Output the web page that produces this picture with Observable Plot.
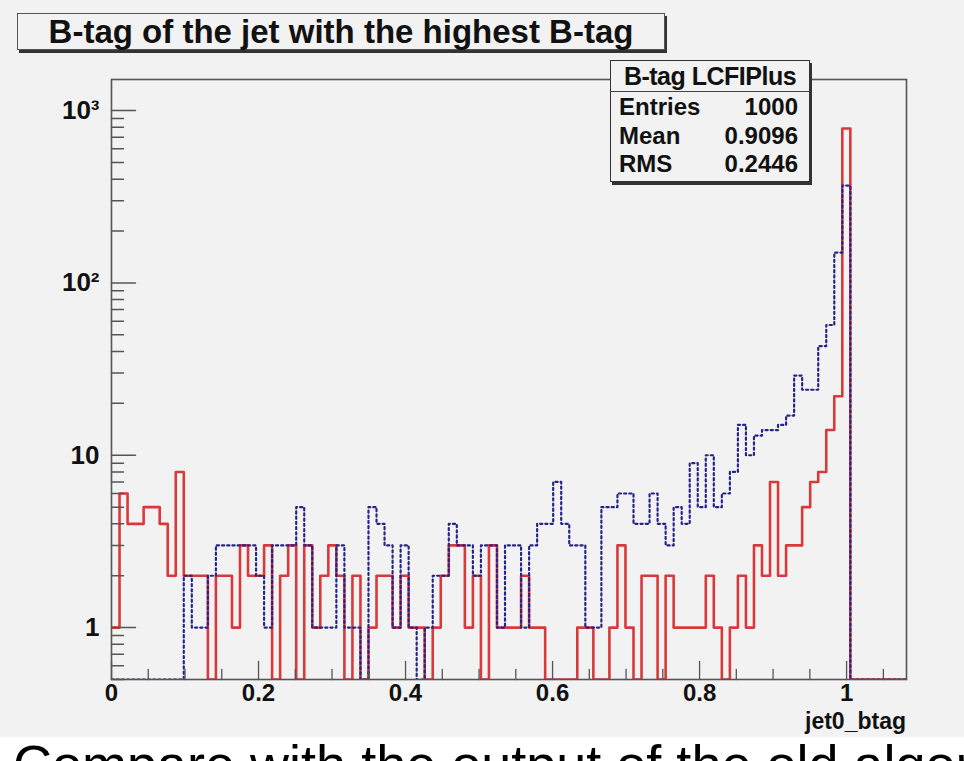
<!DOCTYPE html>
<html>
<head>
<meta charset="utf-8">
<script src="https://cdn.jsdelivr.net/npm/d3@7"></script>
<script src="https://cdn.jsdelivr.net/npm/@observablehq/plot@0.6"></script>
<style>
  html, body { margin: 0; padding: 0; background: #ffffff; }
  #wrap { position: relative; width: 964px; height: 761px; overflow: hidden; background: #ffffff;
          font-family: "Liberation Sans", Arial, sans-serif; font-weight: bold; color: #111; }
  #canvas { position: absolute; left: 0; top: 0; width: 964px; height: 737px; background: #f2f2f2; }
  #chart { position: absolute; left: 0; top: 0; }
  #title { position: absolute; left: 17px; top: 13px; width: 646px; height: 35px; border: 1.5px solid #555;
           box-shadow: 2px 3px 0 #333; background: #f2f2f2; font-size: 33px; line-height: 35px; text-align: center; }
  #stats { position: absolute; left: 610px; top: 60px; width: 198px; height: 120px; border: 1.5px solid #333;
           box-shadow: 2px 3px 0 #333; background: #f2f2f2; font-size: 24px; }
  #stats .hdr { height: 30px; line-height: 31px; text-align: center; border-bottom: 1.5px solid #444; font-size: 25px; letter-spacing: -0.5px; }
  #stats .row { display: flex; justify-content: space-between; padding: 0 11px 0 8px; height: 28.5px; line-height: 29px; }
  #xlabel { position: absolute; right: 58px; top: 708px; font-size: 23px; }
  #slide { position: absolute; left: 13px; top: 733px; font-size: 54px; line-height: 62px; font-weight: normal;
           font-family: "Liberation Sans", Arial, sans-serif; color: #000; white-space: nowrap; }
</style>
</head>
<body>
<div id="wrap">
  <div id="canvas"></div>
  <div id="chart"></div>
  <div id="title">B-tag of the jet with the highest B-tag</div>
  <div id="stats"></div>
  <div id="xlabel">jet0_btag</div>
  <div id="slide">Compare with the output of the old algorithm</div>
</div>
<script>
// ---- data -------------------------------------------------------------
const binWidth = 0.010925;         // histogram bin width (x units), bins start at x = 0
const xRange = [0, 1.0815];
const yRange = [0.5, 1514];

// red solid histogram: entries per bin
const redCounts = [
  1, 6, 4, 4, 5, 5, 4, 2, 8, 2,
  2, 2, 0, 2, 2, 1, 3, 2, 2, 3,
  0, 2, 3, 0, 3, 1, 2, 3, 2, 0,
  2, 0, 1, 2, 2, 1, 2, 1, 1, 0,
  1, 2, 3, 3, 1, 2, 0, 3, 1, 1,
  1, 2, 1, 1, 0, 0, 0, 0, 1, 1,
  0, 0, 1, 3, 1, 0, 2, 2, 0, 2,
  1, 1, 1, 1, 2, 1, 0, 1, 2, 1,
  3, 2, 7, 2, 3, 3, 5, 7, 8, 14,
  22, 787, 0, 0, 0, 0, 0, 0, 0
];

// blue dotted histogram: entries per bin
const blueCounts = [
  0, 0, 0, 0, 0, 0, 0, 0, 0, 2,
  1, 1, 2, 3, 3, 3, 3, 3, 2, 1,
  3, 3, 3, 5, 3, 1, 1, 1, 3, 1,
  1, 0, 5, 4, 3, 1, 3, 1, 0, 1,
  2, 2, 4, 3, 3, 2, 3, 3, 1, 3,
  3, 1, 3, 4, 4, 7, 4, 3, 3, 1,
  1, 5, 5, 6, 6, 4, 4, 6, 4, 3,
  5, 4, 9, 5, 10, 5, 6, 8, 15, 10,
  13, 14, 14, 15, 17, 29, 24, 24, 43, 57,
  150, 367, 0, 0, 0, 0, 0, 0, 0
];

const xTicks = [0, 0.2, 0.4, 0.6, 0.8, 1];
const xTickLabels = ["0", "0.2", "0.4", "0.6", "0.8", "1"];
const yTicks = [1, 10, 100, 1000];
const yTickLabels = ["1", "10", "10\u00B2", "10\u00B3"];

const statsTitle = "B-tag LCFIPlus";
const statsNames = ["Entries", "Mean", "RMS"];
const statsValues = ["1000", "0.9096", "0.2446"];

// ---- build ------------------------------------------------------------
function stepPoints(counts) {
  const pts = counts.map((c, i) => ({x: i * binWidth, y: Math.max(c, yRange[0])}));
  pts.push({x: counts.length * binWidth, y: Math.max(counts[counts.length - 1], yRange[0])});
  return pts;
}
const redPts = stepPoints(redCounts);
const bluePts = stepPoints(blueCounts);

const xMinor = d3.range(0, 1.08, 0.05).map(v => +v.toFixed(2)).filter(v => !xTicks.includes(v));
const yMinor = [];
for (const dec of [0.1, 1, 10, 100]) for (let m = 2; m <= 9; m++) {
  const v = +(dec * m).toFixed(3);
  if (v >= yRange[0] && v <= yRange[1]) yMinor.push(v);
}

const tickShape = {draw(ctx, l) { ctx.moveTo(0, 0); ctx.lineTo(0, -l); }};

const chart = Plot.plot({
  width: 964,
  height: 761,
  marginLeft: 111,
  marginRight: 58,
  marginTop: 79,
  marginBottom: 82,
  style: {background: "transparent", fontFamily: "'Liberation Sans', Arial, sans-serif", fontWeight: "bold", color: "#111"},
  x: {domain: xRange, axis: null},
  y: {type: "log", domain: yRange, axis: null},
  marks: [
    Plot.line(redPts, {x: "x", y: "y", curve: "step-after", stroke: "#d83a3c", strokeWidth: 2.6, clip: true}),
    Plot.line(bluePts, {x: "x", y: "y", curve: "step-after", stroke: "#24248a", strokeWidth: 2.2, strokeDasharray: "2.2,3", clip: true}),
    // y ticks (inside, pointing right)
    Plot.vector(yTicks, {frameAnchor: "left", y: d => d, length: 24, rotate: 90, anchor: "start", shape: tickShape, stroke: "#555", strokeWidth: 1.5}),
    Plot.vector(yMinor, {frameAnchor: "left", y: d => d, length: 12, rotate: 90, anchor: "start", shape: tickShape, stroke: "#555", strokeWidth: 1.5}),
    // x ticks (inside, pointing up)
    Plot.vector(xTicks, {frameAnchor: "bottom", x: d => d, length: 18, rotate: 0, anchor: "start", shape: tickShape, stroke: "#555", strokeWidth: 1.3}),
    Plot.vector(xMinor, {frameAnchor: "bottom", x: d => d, length: 10, rotate: 0, anchor: "start", shape: tickShape, stroke: "#555", strokeWidth: 1.3}),
    Plot.frame({stroke: "#555", strokeWidth: 1.6}),
    // tick labels
    Plot.text(yTicks, {frameAnchor: "left", y: d => d, text: (d, i) => yTickLabels[i], textAnchor: "end", dx: -12, fontSize: 26, fontWeight: "bold", fill: "#111"}),
    Plot.text(xTicks, {frameAnchor: "bottom", x: d => d, text: (d, i) => xTickLabels[i], lineAnchor: "top", dy: 4, fontSize: 24, fontWeight: "bold", fill: "#111"})
  ]
});
document.getElementById("chart").appendChild(chart);

const stats = document.getElementById("stats");
const hdr = document.createElement("div");
hdr.className = "hdr";
hdr.textContent = statsTitle;
stats.appendChild(hdr);
statsNames.forEach((n, i) => {
  const r = document.createElement("div");
  r.className = "row";
  const a = document.createElement("span"); a.textContent = n;
  const b = document.createElement("span"); b.textContent = statsValues[i];
  r.appendChild(a); r.appendChild(b);
  stats.appendChild(r);
});
</script>
</body>
</html>
